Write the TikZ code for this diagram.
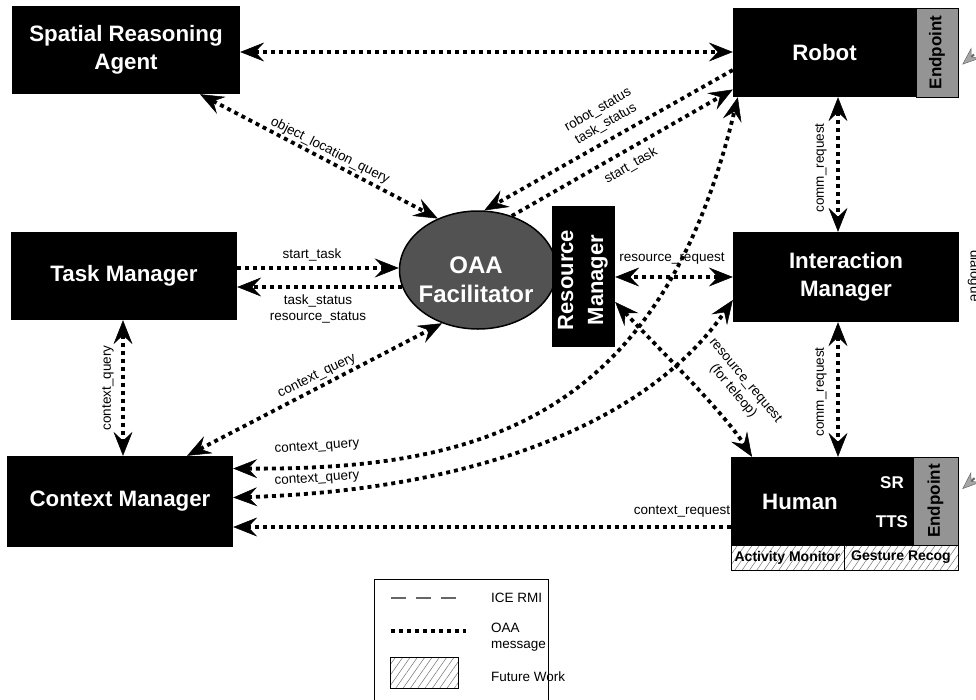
\documentclass[tikz,border=0pt]{standalone}
\usepackage{fontspec}
\setmainfont{Liberation Sans}
\usetikzlibrary{arrows.meta,calc,patterns.meta,shapes.geometric}
\begin{document}
\begin{tikzpicture}[x=1pt,y=-1pt,
  >={Stealth[length=24pt,width=19pt,inset=9pt,line width=0.5pt]},
  blk/.style={fill=black,text=white,inner sep=0pt,align=center,rectangle,
    font=\bfseries\fontsize{22.3}{28}\selectfont},
  whitetxt/.style={text=white,inner sep=0pt,align=center,font=\bfseries\fontsize{22.3}{28}\selectfont},
  smallw/.style={text=white,inner sep=0pt,font=\bfseries\fontsize{17}{20}\selectfont},
  epbox/.style={fill=black!42,draw=black,line width=0.6pt,inner sep=0pt,rectangle},
  eptxt/.style={rotate=90,inner sep=0pt,font=\bfseries\fontsize{17}{20}\selectfont},
  fut/.style={draw=black,line width=0.9pt,inner sep=0pt,rectangle,
    pattern={Lines[angle=55,distance=6pt,line width=0.5pt]},pattern color=black!55},
  futtxt/.style={inner sep=0pt,font=\bfseries\fontsize{14}{16}\selectfont},
  msg/.style={line width=3.8pt,dash pattern=on 4pt off 4pt},
  icermi/.style={line width=2pt,dash pattern=on 15pt off 10pt,draw=black!60},
  lbl/.style={inner sep=0pt,align=center,font=\fontsize{13.5}{16}\selectfont},
]
\useasboundingbox (0,0) rectangle (976,699);
\fill[white] (0,0) rectangle (976,699);

% ---------------- boxes ----------------
\node[blk,minimum width=228pt,minimum height=88pt] (sra) at (126,50) {Spatial Reasoning\\Agent};
\node[blk,minimum width=183pt,minimum height=89pt] (rob) at (824.5,52.5) {Robot};
\node[epbox,minimum width=42pt,minimum height=89pt] (robep) at (937,52.5) {};
\node[eptxt] (robept) at (robep) {Endpoint};

\node[blk,minimum width=226pt,minimum height=88pt] (tm) at (124,276) {Task Manager};
\node[blk,minimum width=226pt,minimum height=90pt] (im) at (846,277) {Interaction\\Manager};
\node[blk,minimum width=226pt,minimum height=91pt] (cm) at (120,501.5) {Context Manager};

\node[blk,minimum width=182pt,minimum height=88pt] (hum) at (822,501) {};
\node[whitetxt] (humt) at (800,502) {Human};
\node[smallw] (sr) at (892,483) {SR};
\node[smallw] (tts) at (892,522) {TTS};
\node[epbox,minimum width=45pt,minimum height=88pt] (humep) at (935.5,501) {};
\node[eptxt] (humept) at (humep) {Endpoint};
\node[fut,minimum width=113pt,minimum height=25pt] (am) at (787.5,557.5) {};
\node[futtxt] (amt) at (am) {Activity Monitor};
\node[fut,minimum width=114pt,minimum height=25pt] (gr) at (901,557.5) {};
\node[futtxt] (grt) at (gr) {Gesture Recog};

\node[ellipse,draw=black,line width=1.5pt,fill=black!68,minimum width=157pt,minimum height=118pt,inner sep=0pt] (oaa) at (478,270) {};
\node[text=white,align=center,inner sep=0pt,font=\bfseries\fontsize{24}{29}\selectfont] (oaat) at (476,280) {OAA\\Facilitator};
\node[blk,minimum width=63pt,minimum height=141pt] (rm) at (583.5,276.5) {};
\node[whitetxt,rotate=90,font=\bfseries\fontsize{22}{30}\selectfont] (rmt) at (583,280) {Resource\\Manager};

% ---------------- connectors ----------------
\draw[msg,<->] ($(sra.east)+(0,2)$) -- ($(rob.west)+(0,-0.5)$);
\draw[msg,<->] ($(sra.south)+(74,0)$) -- (oaa.128);
\node[lbl,rotate=-27] (olq) at (330,151) {object\_location\_query};

\draw[msg,->] ($(rob.west)+(0,17.5)$) -- (oaa.84);
\draw[msg,->] (oaa.58) -- ($(rob.west)+(0,37)$);
\node[lbl,rotate=30] (rst) at (602,117) {robot\_status\\task\_status};
\node[lbl,rotate=30] (strob) at (631,166) {start\_task};

\draw[msg,->] ($(tm.east)+(0,-8)$) -- ($(oaa.west)+(0,-2)$);
\draw[msg,->] ($(oaa.west)+(3,17)$) -- ($(tm.east)+(0,11)$);
\node[lbl] (sttm) at (312,255) {start\_task};
\node[lbl] (tstm) at (318,309) {task\_status\\resource\_status};

\draw[msg,<->] ($(tm.south)+(-1,0)$) -- ($(cm.north)+(3,0)$);
\node[lbl,rotate=90] (cqv) at (108,388) {context\_query};

\draw[msg,<->] ($(cm.north)+(67,0)$) -- (oaa.236);
\node[lbl,rotate=26] (cqo) at (317,376) {context\_query};

\draw[msg,<->] ($(cm.east)+(0,-33)$) .. controls (480,470) and (660,420) .. ($(rob.south west)+(5,0)$);
\node[lbl,rotate=4] (cqa) at (317,447) {context\_query};
\draw[msg,<->] ($(cm.east)+(0,-4)$) .. controls (480,490) and (650,420) .. ($(im.west)+(0,23)$);
\node[lbl,rotate=4] (cqb) at (317,479) {context\_query};

\draw[msg,->] ($(hum.west)+(0,26)$) -- ($(cm.east)+(0,25.5)$);
\node[lbl] (crq) at (682,512) {context\_request};

\draw[msg,<->] ($(rob.south)+(13.5,0)$) -- ($(im.north)+(-8,0)$);
\node[lbl,rotate=90] (cm1) at (821,168) {comm\_request};
\draw[msg,<->] ($(im.south)+(-8,0)$) -- ($(hum.north)+(16,0)$);
\node[lbl,rotate=90] (cm2) at (821,392) {comm\_request};

\draw[msg,<->] (im.west) -- (rm.east |- im.west);
\node[lbl] (rrq) at (672,259) {resource\_request};

\draw[msg,<->] ($(rm.east)+(0,25.5)$) .. controls (655,345) and (722,410) .. ($(hum.north)+(-70,0)$);
\node[lbl,rotate=-50] (rrt) at (739,386) {resource\_request\\(for teleop)};

% partially visible ICE RMI links to the dialogue component
\coordinate (dlg1) at (1012,22);
\coordinate (dlg2) at (1012,445);
\draw[icermi,-{Stealth[length=18pt,width=14pt,inset=6pt,line width=0.5pt,fill=black!35,color=black!60]}] (dlg1) -- ($(robep.east)+(4,12)$);
\draw[icermi,-{Stealth[length=18pt,width=14pt,inset=6pt,line width=0.5pt,fill=black!35,color=black!60]}] (dlg2) -- ($(humep.east)+(4,-12)$);
\node[lbl,rotate=-90,font=\fontsize{13.5}{16}\selectfont] (dlgt) at (974,276) {dialogue};

% ---------------- legend ----------------
\draw[line width=1pt] (374,704) -- (374,579) -- (548,579) -- (548,704);
\coordinate (l1a) at (391,598); \coordinate (l1b) at (466,598);
\draw[icermi,line width=2.2pt] (l1a) -- (l1b);
\node[lbl,anchor=west] (l1t) at (491,598) {ICE RMI};
\coordinate (l2a) at (391,631); \coordinate (l2b) at (466,631);
\draw[msg,line width=3.4pt] (l2a) -- (l2b);
\node[lbl,anchor=west,align=left] (l2t) at (491,637) {OAA\\message};
\node[fut,minimum width=68pt,minimum height=31pt] (l3) at (424,672.5) {};
\node[lbl,anchor=west] (l3t) at (491,677) {Future Work};
\end{tikzpicture}
\end{document}
